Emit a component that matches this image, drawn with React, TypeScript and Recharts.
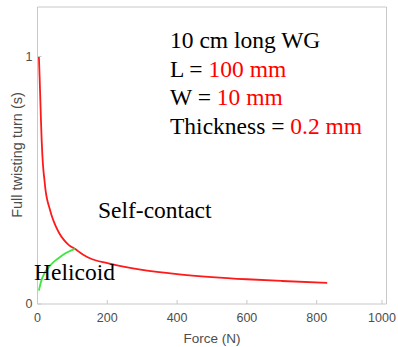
import React from 'react';
import { LineChart, Line, XAxis, YAxis } from 'recharts';

// self-contact branch (red)
const redForce = [4, 6, 8, 10, 12, 14, 17, 20, 23, 28, 33, 40, 50, 62, 75, 90, 107, 130, 150, 200, 250, 300, 400, 500, 600, 700, 830];
const redTurn = [1.0, 0.92, 0.83, 0.74, 0.66, 0.6, 0.54, 0.5, 0.46, 0.42, 0.394, 0.36, 0.322, 0.287, 0.26, 0.238, 0.223, 0.2, 0.185, 0.165, 0.15, 0.138, 0.121, 0.109, 0.1, 0.093, 0.085];

// helicoid branch (green)
const greenForce = [4, 10, 20, 30, 45, 60, 80, 107];
const greenTurn = [0.054, 0.09, 0.125, 0.145, 0.168, 0.185, 0.205, 0.223];

const xTicks = [0, 200, 400, 600, 800, 1000];
const yTicks = [0, 1];

const notes = ['10 cm long WG', 'L = ', 'W = ', 'Thickness = '];
const noteValues = ['', '100 mm', '10 mm', '0.2 mm'];

const axisColor = '#c8c8c8';
const labelColor = '#4d4d4d';
const sans = '"Liberation Sans", Arial, sans-serif';
const serif = '"Liberation Serif", "Times New Roman", serif';

const redData = redForce.map((f, i) => ({ f, t: redTurn[i] }));
const greenData = greenForce.map((f, i) => ({ f, t: greenTurn[i] }));

const BottomTick = (props: any) => {
  const { x, y, payload } = props;
  const axisY = y - 14;
  return (
    <g>
      <line x1={x} y1={axisY} x2={x} y2={axisY - 4} stroke={axisColor} />
      <text x={x} y={y} textAnchor="middle" dominantBaseline="central" fill={labelColor} fontSize={12.5} fontFamily={sans}>
        {payload.value}
      </text>
    </g>
  );
};

const TopTick = (props: any) => {
  const { x, y } = props;
  return <line x1={x} y1={y} x2={x} y2={y + 4} stroke={axisColor} />;
};

const LeftTick = (props: any) => {
  const { x, y, payload } = props;
  const axisX = x + 5;
  return (
    <g>
      <line x1={axisX} y1={y} x2={axisX + 4} y2={y} stroke={axisColor} />
      <text x={x} y={y} textAnchor="end" dominantBaseline="central" fill={labelColor} fontSize={12.5} fontFamily={sans}>
        {payload.value}
      </text>
    </g>
  );
};

const RightTick = (props: any) => {
  const { x, y } = props;
  return <line x1={x} y1={y} x2={x - 4} y2={y} stroke={axisColor} />;
};

export default function App() {
  return (
    <div style={{ position: 'absolute', left: 0, top: 0, width: 398, height: 347, background: '#fff' }}>
      <LineChart width={398} height={347} margin={{ top: 6, right: 0, bottom: 0, left: 0 }}>
        <XAxis
          xAxisId="bottom"
          type="number"
          dataKey="f"
          domain={[0, 1000]}
          ticks={xTicks}
          height={43}
          stroke={axisColor}
          tickLine={false}
          tickSize={0}
          tickMargin={14}
          tick={<BottomTick />}
          allowDataOverflow
        />
        <XAxis
          xAxisId="top"
          orientation="top"
          type="number"
          dataKey="f"
          domain={[0, 1000]}
          ticks={xTicks}
          height={1}
          stroke={axisColor}
          tickLine={false}
          tickSize={0}
          tickMargin={0}
          tick={<TopTick />}
        />
        <YAxis
          yAxisId="left"
          type="number"
          domain={[0, 1.2]}
          ticks={yTicks}
          width={37.5}
          stroke={axisColor}
          tickLine={false}
          tickSize={0}
          tickMargin={5}
          tick={<LeftTick />}
        />
        <YAxis
          yAxisId="right"
          orientation="right"
          type="number"
          domain={[0, 1.2]}
          ticks={yTicks}
          width={11.5}
          stroke={axisColor}
          tickLine={false}
          tickSize={0}
          tickMargin={0}
          tick={<RightTick />}
        />
        <Line
          xAxisId="bottom"
          yAxisId="left"
          data={redData}
          dataKey="t"
          type="monotone"
          stroke="#ff1a1a"
          strokeWidth={1.8}
          dot={false}
          isAnimationActive={false}
        />
        <Line
          xAxisId="bottom"
          yAxisId="left"
          data={greenData}
          dataKey="t"
          type="monotone"
          stroke="#3ee63e"
          strokeWidth={1.8}
          dot={false}
          isAnimationActive={false}
        />
      </LineChart>
      <svg width={398} height={347} style={{ position: 'absolute', left: 0, top: 0, pointerEvents: 'none' }}>
        <text x={212} y={338} textAnchor="middle" dominantBaseline="central" fill={labelColor} fontSize={13.5} fontFamily={sans}>
          Force (N)
        </text>
        <text
          x={17}
          y={155}
          transform="rotate(-90 17 155)"
          textAnchor="middle"
          dominantBaseline="central"
          fill={labelColor}
          fontSize={14.5}
          fontFamily={sans}
        >
          Full twisting turn (s)
        </text>
        {notes.map((n, i) => (
          <text key={n} x={170} y={48 + i * 28.5} fontSize={23.5} fontFamily={serif} fill="#000">
            {n}
            <tspan fill="#ff0000">{noteValues[i]}</tspan>
          </text>
        ))}
        <text x={98} y={218} fontSize={23.5} fontFamily={serif} fill="#000">
          Self-contact
        </text>
        <text x={34} y={280} fontSize={23.5} fontFamily={serif} fill="#000">
          Helicoid
        </text>
      </svg>
    </div>
  );
}
